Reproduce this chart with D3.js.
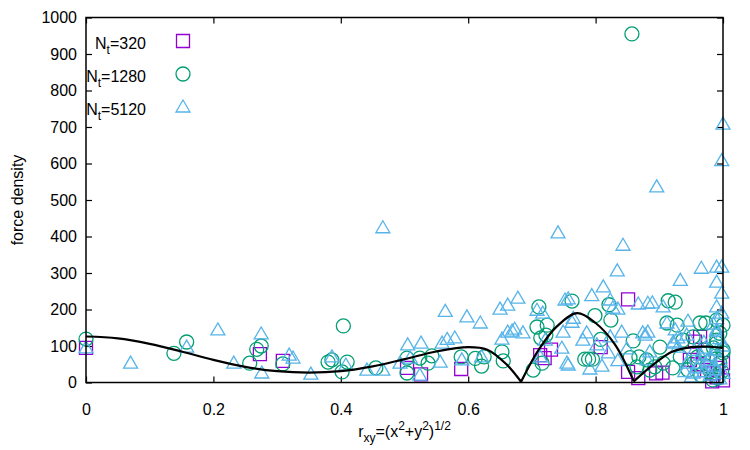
<!DOCTYPE html>
<html>
<head>
<meta charset="utf-8">
<script src="https://cdn.jsdelivr.net/npm/d3@7"></script>
<style>
  body { margin: 0; background: #fff; }
  svg text { font-family: "Liberation Sans", Arial, sans-serif; font-size: 16px; fill: #000; }
</style>
</head>
<body>
<svg id="chart" width="750" height="450"></svg>
<script>
// N_t = 320 (squares)
var sqX = [0.0, 0.273, 0.309, 0.504, 0.526, 0.589, 0.713, 0.72, 0.73, 0.808, 0.851, 0.851, 0.867, 0.895,
           0.905, 0.948, 0.956, 0.964, 0.975, 0.983, 0.99, 1.0, 1.0, 0.992, 0.97, 0.96, 0.985];
var sqY = [95, 78, 59, 40, 22, 37, 75, 67, 90, 97, 228, 29, 12, 25,
           27, 62, 112, 125, 34, 3, 14, 6, 53, 40, 80, 50, 25];

// N_t = 1280 (circles)
var ciX = [0.0, 0.138, 0.158, 0.257, 0.268, 0.275, 0.309, 0.38, 0.386, 0.404, 0.402, 0.41, 0.455, 0.504,
           0.504, 0.524, 0.537, 0.543, 0.589, 0.611, 0.621, 0.625, 0.653, 0.655, 0.702, 0.711, 0.708, 0.724,
           0.714, 0.722, 0.716, 0.763, 0.799, 0.821, 0.824, 0.808, 0.783, 0.789, 0.795, 0.859, 0.854, 0.868,
           0.865, 0.885, 0.88, 0.901, 0.893, 0.906, 0.921, 0.933, 0.914, 0.925, 0.928, 0.937, 0.964, 0.973,
           0.99, 1.0, 0.995, 0.99, 1.0, 0.953, 0.99, 0.995, 1.0, 0.984, 0.992, 0.857, 0.97, 0.96, 0.975,
           0.98, 0.965, 0.99, 0.985, 0.998, 0.945, 0.955, 0.912];
var ciY = [119, 80, 111, 53, 91, 100, 51, 56, 62, 155, 29, 56, 40, 67,
           26, 67, 53, 73, 70, 66, 45, 70, 84, 59, 34, 207, 152, 157,
           122, 130, 53, 223, 183, 213, 171, 118, 64, 64, 64, 114, 68, 70,
           43, 34, 62, 97, 43, 53, 40, 70, 224, 220, 157, 116, 163, 163,
           171, 157, 135, 116, 89, 125, 108, 53, 81, 7, 12, 955, 90, 70, 45,
           30, 20, 65, 95, 30, 35, 55, 163];

// N_t = 5120 (triangles)
var trX = [0.0, 0.07, 0.158, 0.207, 0.232, 0.275, 0.276, 0.319, 0.325, 0.353, 0.386, 0.408, 0.441, 0.466,
           0.466, 0.493, 0.505, 0.509, 0.524, 0.526, 0.556, 0.559, 0.564, 0.567, 0.579, 0.59, 0.598, 0.619,
           0.621, 0.65, 0.653, 0.662, 0.662, 0.669, 0.673, 0.678, 0.686, 0.708, 0.717, 0.713, 0.721, 0.741,
           0.747, 0.749, 0.752, 0.755, 0.757, 0.763, 0.765, 0.78, 0.786, 0.791, 0.794, 0.802, 0.812, 0.82,
           0.823, 0.823, 0.827, 0.834, 0.835, 0.841, 0.843, 0.849, 0.867, 0.874, 0.882, 0.882, 0.881, 0.885,
           0.889, 0.896, 0.906, 0.912, 0.922, 0.929, 0.929, 0.933, 0.943, 0.945, 0.953, 0.964, 0.966, 0.972,
           0.99, 0.998, 0.99, 0.998, 0.99, 0.998, 0.99, 1.0, 0.998, 0.96, 0.97, 0.975, 0.98, 0.985,
           0.99, 0.995, 1.0, 0.965, 0.98, 0.99, 0.995, 1.0, 0.97, 0.985, 0.99, 0.955, 0.995, 0.94,
           0.95, 0.81, 0.835, 0.878, 0.925, 0.99, 0.943, 0.922, 0.757];
var trY = [95, 53, 97, 144, 53, 133, 26, 75, 67, 23, 70, 48, 34, 34,
           424, 53, 103, 67, 20, 108, 56, 108, 195, 118, 122, 62, 180, 163,
           70, 201, 119, 212, 138, 141, 146, 231, 136, 198, 190, 70, 116, 410,
           94, 138, 226, 53, 229, 165, 176, 116, 136, 37, 238, 103, 262, 81,
           226, 125, 204, 306, 201, 138, 376, 92, 215, 136, 138, 217, 62, 84,
           218, 536, 207, 163, 108, 97, 122, 280, 53, 168, 26, 53, 313, 94,
           316, 316, 275, 245, 207, 190, 89, 708, 608, 40, 30, 60, 20, 45,
           35, 10, 25, 75, 70, 140, 120, 100, 110, 160, 175, 88, 60, 30,
           15, 45, 60, 130, 144, 144, 130, 111, 48];

// black reference curve
var curveX = [0, 0.05, 0.1, 0.15, 0.2, 0.25, 0.3, 0.35, 0.4, 0.45, 0.5, 0.55, 0.6, 0.63, 0.66, 0.683,
              0.71, 0.74, 0.771, 0.8, 0.83, 0.86, 0.89, 0.92, 0.95, 0.98, 1.0];
var curveY = [126, 121, 106, 85, 62, 43, 31, 27, 31, 44, 64, 85, 97, 90, 50, 2,
              88, 155, 190, 163, 105, 3, 48, 84, 97, 98, 95];

var xTicks = [0, 0.2, 0.4, 0.6, 0.8, 1];
var yTicks = [0, 100, 200, 300, 400, 500, 600, 700, 800, 900, 1000];

var series = [
    {label: "320", shape: "square", color: "#9400d3", xs: sqX, ys: sqY},
    {label: "1280", shape: "circle", color: "#009e73", xs: ciX, ys: ciY},
    {label: "5120", shape: "triangle", color: "#56b4e9", xs: trX, ys: trY}
];

var margin = {top: 17.5, right: 27, bottom: 67.5, left: 86},
    width = 750 - margin.left - margin.right,
    height = 450 - margin.top - margin.bottom;

var svg = d3.select("#chart");
var scene = svg.append("g").attr("transform", "translate(" + margin.left + "," + margin.top + ")");

var x = d3.scaleLinear().domain([0, 1]).range([0, width]);
var y = d3.scaleLinear().domain([0, 1000]).range([height, 0]);

function symbolPath(shape) {
    if (shape === "square") return "M-6.5,-6.5H6.5V6.5H-6.5Z";
    if (shape === "circle") return d3.arc()({innerRadius: 0, outerRadius: 7, startAngle: 0, endAngle: 2 * Math.PI});
    return "M0,-7L7,5H-7Z";
}

// ticks (inward, mirrored) via d3 axes
var tickLen = 6;
scene.append("g").attr("transform", "translate(0," + height + ")")
    .call(d3.axisBottom(x).tickValues(xTicks).tickSizeInner(-tickLen).tickSizeOuter(0).tickPadding(21)
        .tickFormat(function (d) { return d === 0 || d === 1 ? d3.format("d")(d) : d3.format(".1f")(d); }));
scene.append("g")
    .call(d3.axisTop(x).tickValues(xTicks).tickSizeInner(-tickLen).tickSizeOuter(0).tickFormat(""));
scene.append("g")
    .call(d3.axisLeft(y).tickValues(yTicks).tickSizeInner(-tickLen).tickSizeOuter(0).tickPadding(9)
        .tickFormat(d3.format("d")));
scene.append("g").attr("transform", "translate(" + width + ",0)")
    .call(d3.axisRight(y).tickValues(yTicks).tickSizeInner(-tickLen).tickSizeOuter(0).tickFormat(""));

scene.selectAll(".domain").remove();
scene.selectAll(".tick line").attr("stroke", "#000").attr("stroke-width", 1.2);
scene.selectAll(".tick text").style("font-size", "16px").attr("fill", "#000");

// data points
series.forEach(function (s) {
    var pts = s.xs.map(function (v, i) { return {x: v, y: s.ys[i]}; });
    scene.append("g")
        .selectAll("path")
        .data(pts)
        .enter().append("path")
        .attr("d", symbolPath(s.shape))
        .attr("transform", function (d) { return "translate(" + x(d.x) + "," + y(d.y) + ")"; })
        .attr("fill", "none")
        .attr("stroke", s.color)
        .attr("stroke-width", 1.3);
});

// curve, split at the kinks so they stay sharp
var curvePts = curveX.map(function (v, i) { return {x: v, y: curveY[i]}; });
var segments = [], cur = [];
curvePts.forEach(function (p, i) {
    cur.push(p);
    if (i > 0 && i < curvePts.length - 1 && p.y < 5) {
        segments.push(cur);
        cur = [p];
    }
});
segments.push(cur);

var line = d3.line()
    .x(function (d) { return x(d.x); })
    .y(function (d) { return y(d.y); })
    .curve(d3.curveCatmullRom.alpha(0.5));

scene.selectAll(".curve")
    .data(segments)
    .enter().append("path")
    .attr("class", "curve")
    .attr("d", line)
    .attr("fill", "none")
    .attr("stroke", "#000")
    .attr("stroke-width", 2.2);

// border
scene.append("rect")
    .attr("width", width).attr("height", height)
    .attr("fill", "none").attr("stroke", "#000").attr("stroke-width", 1.5);

// legend
var legend = scene.selectAll(".legend")
    .data(series)
    .enter().append("g")
    .attr("class", "legend")
    .attr("transform", function (d, i) { return "translate(0," + (31.5 + i * 33) + ")"; });

legend.each(function (d) {
    var g = d3.select(this);
    var t = g.append("text").attr("x", 146 - margin.left).attr("y", 0).attr("text-anchor", "end");
    t.append("tspan").text("N");
    t.append("tspan").attr("dy", 5).style("font-size", "12px").text("t");
    t.append("tspan").attr("dy", -5).text("=" + d.label);
    g.append("path")
        .attr("d", symbolPath(d.shape))
        .attr("transform", "translate(" + (183 - margin.left) + ",-8)")
        .attr("fill", "none")
        .attr("stroke", d.color)
        .attr("stroke-width", 1.3);
});

// axis titles
svg.append("text")
    .attr("transform", "translate(23," + (margin.top + height / 2) + ") rotate(-90)")
    .attr("text-anchor", "middle")
    .text("force density");

var xl = svg.append("text")
    .attr("x", margin.left + width / 2)
    .attr("y", 437)
    .attr("text-anchor", "middle");
xl.append("tspan").text("r");
xl.append("tspan").attr("dy", 5).style("font-size", "12px").text("xy");
xl.append("tspan").attr("dy", -5).text("=(x");
xl.append("tspan").attr("dy", -7).style("font-size", "12px").text("2");
xl.append("tspan").attr("dy", 7).text("+y");
xl.append("tspan").attr("dy", -7).style("font-size", "12px").text("2");
xl.append("tspan").attr("dy", 7).text(")");
xl.append("tspan").attr("dy", -7).style("font-size", "12px").text("1/2");
</script>
</body>
</html>
